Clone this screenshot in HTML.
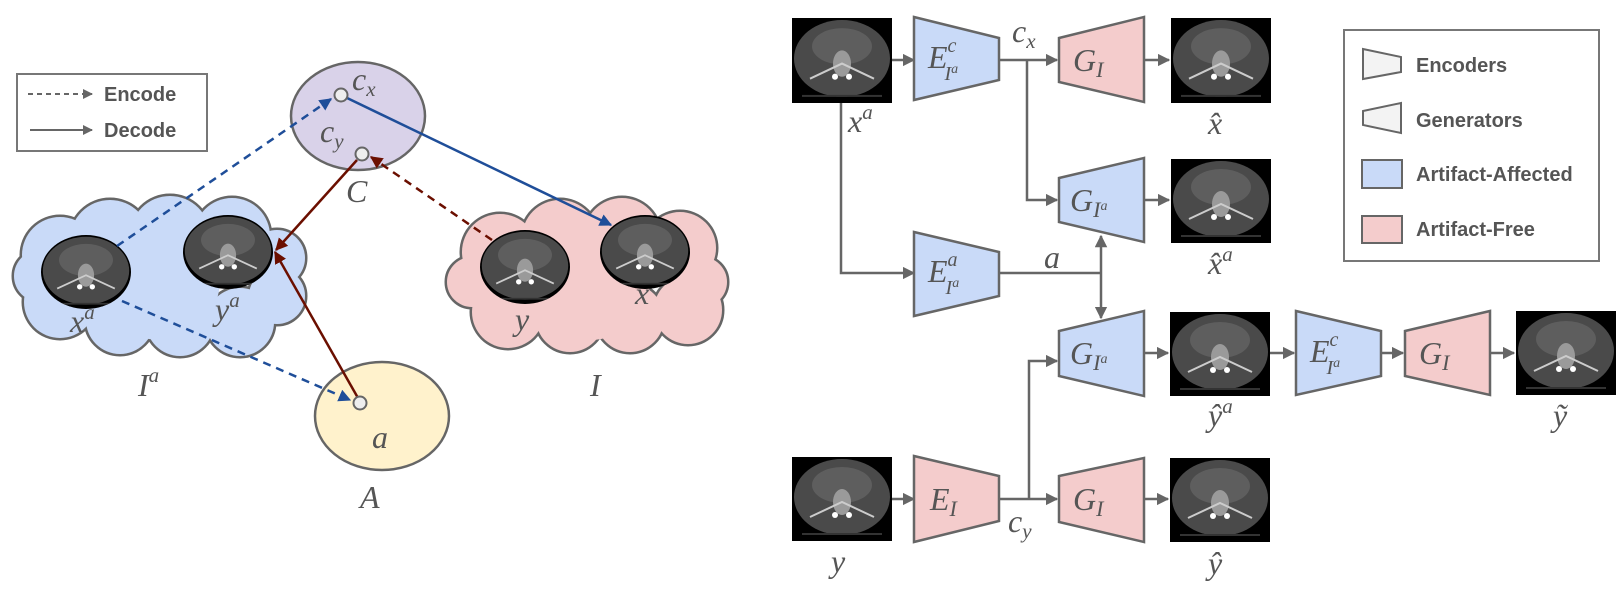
<!DOCTYPE html>
<html><head><meta charset="utf-8"><style>
body{margin:0;background:#fff;width:1617px;height:587px;overflow:hidden}
svg text{font-family:"Liberation Serif","DejaVu Serif",serif;fill:#555}
.m{font-style:italic;font-size:32px}
.lg{font-family:"Liberation Sans",sans-serif !important;font-weight:bold;font-size:20px;fill:#555;font-style:normal}
</style></head><body>
<svg width="1617" height="587" viewBox="0 0 1617 587" xmlns="http://www.w3.org/2000/svg">
<defs>
<marker id="ag" viewBox="0 0 10 10" refX="9" refY="5" markerWidth="5" markerHeight="5" orient="auto"><path d="M0,0L10,5L0,10z" fill="#666"/></marker>
<marker id="ab" viewBox="0 0 10 10" refX="9" refY="5" markerWidth="5" markerHeight="5" orient="auto"><path d="M0,0L10,5L0,10z" fill="#1f4e99"/></marker>
<marker id="ar" viewBox="0 0 10 10" refX="9" refY="5" markerWidth="5" markerHeight="5" orient="auto"><path d="M0,0L10,5L0,10z" fill="#6b0f00"/></marker>
<symbol id="ct" viewBox="0 0 100 84" preserveAspectRatio="none">
<rect width="100" height="84" fill="#000"/>
<ellipse cx="50" cy="40" rx="48" ry="38" fill="#4a4a4a"/>
<ellipse cx="50" cy="28" rx="30" ry="18" fill="#5e5e5e"/>
<ellipse cx="50" cy="45" rx="9" ry="13" fill="#9a9a9a"/>
<path d="M18,60 L50,45 L82,60" stroke="#ccc" stroke-width="2" fill="none"/>
<circle cx="43" cy="58" r="3" fill="#fff"/><circle cx="57" cy="58" r="3" fill="#fff"/>
<rect x="10" y="76" width="80" height="2" fill="#333"/>
</symbol>
<clipPath id="c1"><ellipse cx="86" cy="272" rx="45" ry="37"/></clipPath>
<clipPath id="c2"><ellipse cx="228" cy="252" rx="45" ry="37"/></clipPath>
<clipPath id="c3"><ellipse cx="525" cy="267" rx="45" ry="37"/></clipPath>
<clipPath id="c4"><ellipse cx="645" cy="252" rx="45" ry="37"/></clipPath>
</defs>

<rect x="17" y="74" width="190" height="77" fill="#fff" stroke="#777" stroke-width="2"/>
<line x1="28" y1="94" x2="92" y2="94" stroke="#666" stroke-width="2" stroke-dasharray="5,4" marker-end="url(#ag)"/>
<line x1="30" y1="130" x2="92" y2="130" stroke="#666" stroke-width="2" marker-end="url(#ag)"/>
<text x="104" y="101" class="lg">Encode</text>
<text x="104" y="137" class="lg">Decode</text>

<g stroke="#666" stroke-width="5" fill="#666">
<circle cx="60" cy="255" r="38"/><circle cx="110" cy="240" r="40"/><circle cx="170" cy="236" r="40"/><circle cx="232" cy="236" r="38"/><circle cx="277" cy="258" r="28"/><circle cx="277" cy="296" r="28"/><circle cx="240" cy="322" r="34"/><circle cx="180" cy="322" r="34"/><circle cx="120" cy="320" r="34"/><circle cx="60" cy="302" r="36"/><circle cx="40" cy="276" r="26"/>
<circle cx="500" cy="252" r="38"/><circle cx="560" cy="238" r="38"/><circle cx="622" cy="236" r="38"/><circle cx="680" cy="248" r="36"/><circle cx="702" cy="282" r="25"/><circle cx="688" cy="310" r="34"/><circle cx="630" cy="318" r="34"/><circle cx="570" cy="318" r="34"/><circle cx="508" cy="312" r="36"/><circle cx="472" cy="282" r="25"/>
</g>
<g fill="#c9daf8">
<circle cx="60" cy="255" r="38"/><circle cx="110" cy="240" r="40"/><circle cx="170" cy="236" r="40"/><circle cx="232" cy="236" r="38"/><circle cx="277" cy="258" r="28"/><circle cx="277" cy="296" r="28"/><circle cx="240" cy="322" r="34"/><circle cx="180" cy="322" r="34"/><circle cx="120" cy="320" r="34"/><circle cx="60" cy="302" r="36"/><circle cx="40" cy="276" r="26"/><circle cx="160" cy="280" r="60"/>
</g>
<g fill="#f4cccc">
<circle cx="500" cy="252" r="38"/><circle cx="560" cy="238" r="38"/><circle cx="622" cy="236" r="38"/><circle cx="680" cy="248" r="36"/><circle cx="702" cy="282" r="25"/><circle cx="688" cy="310" r="34"/><circle cx="630" cy="318" r="34"/><circle cx="570" cy="318" r="34"/><circle cx="508" cy="312" r="36"/><circle cx="472" cy="282" r="25"/><circle cx="590" cy="280" r="60"/>
</g>
<g clip-path="url(#c1)"><use href="#ct" x="41" y="235" width="90" height="75"/></g>
<g clip-path="url(#c2)"><use href="#ct" x="183" y="215" width="90" height="75"/></g>
<g clip-path="url(#c3)"><use href="#ct" x="480" y="230" width="90" height="75"/></g>
<g clip-path="url(#c4)"><use href="#ct" x="600" y="215" width="90" height="75"/></g>
<text x="70" y="332" class="m">x<tspan dy="-13" font-size="21">a</tspan></text>
<text x="215" y="320" class="m">y<tspan dy="-13" font-size="21">a</tspan></text>
<text x="515" y="330" class="m">y</text>
<text x="635" y="304" class="m">x</text>
<text x="138" y="396" class="m" font-size="36">I<tspan dy="-14" font-size="21">a</tspan></text>
<text x="590" y="396" class="m" font-size="36">I</text>

<ellipse cx="358" cy="116" rx="67" ry="54" fill="#d9d2e9" stroke="#666" stroke-width="2.5"/>
<ellipse cx="382" cy="416" rx="67" ry="54" fill="#fff2cc" stroke="#666" stroke-width="2.5"/>
<text x="352" y="90" class="m">c<tspan dy="6" font-size="21">x</tspan></text>
<text x="320" y="142" class="m">c<tspan dy="6" font-size="21">y</tspan></text>
<text x="346" y="202" class="m" font-size="36">C</text>
<text x="372" y="448" class="m">a</text>
<text x="360" y="508" class="m" font-size="36">A</text>

<line x1="117" y1="246" x2="331" y2="99" stroke="#1f4e99" stroke-width="2.5" stroke-dasharray="8,6" marker-end="url(#ab)"/>
<line x1="345" y1="97" x2="611" y2="225" stroke="#1f4e99" stroke-width="2.5" marker-end="url(#ab)"/>
<line x1="122" y1="301" x2="350" y2="400" stroke="#1f4e99" stroke-width="2.5" stroke-dasharray="8,6" marker-end="url(#ab)"/>
<line x1="357" y1="160" x2="276" y2="250" stroke="#6b0f00" stroke-width="2.5" marker-end="url(#ar)"/>
<line x1="358" y1="398" x2="275" y2="252" stroke="#6b0f00" stroke-width="2.5" marker-end="url(#ar)"/>
<line x1="492" y1="240" x2="371" y2="157" stroke="#6b0f00" stroke-width="2.5" stroke-dasharray="8,6" marker-end="url(#ar)"/>
<circle cx="341" cy="95" r="6.5" fill="#eee" stroke="#666" stroke-width="2"/>
<circle cx="362" cy="154" r="6.5" fill="#eee" stroke="#666" stroke-width="2"/>
<circle cx="360" cy="403" r="6.5" fill="#eee" stroke="#666" stroke-width="2"/>

<use href="#ct" x="792" y="18" width="100" height="85"/>
<use href="#ct" x="1171" y="18" width="100" height="85"/>
<use href="#ct" x="1171" y="159" width="100" height="84"/>
<use href="#ct" x="1170" y="312" width="100" height="84"/>
<use href="#ct" x="1516" y="311" width="100" height="84"/>
<use href="#ct" x="792" y="457" width="100" height="84"/>
<use href="#ct" x="1170" y="458" width="100" height="84"/>

<g stroke="#666" stroke-width="2.5" fill="none">
<line x1="892" y1="60" x2="914" y2="60" marker-end="url(#ag)"/>
<line x1="999" y1="60" x2="1057" y2="60" marker-end="url(#ag)"/>
<polyline points="1027,60 1027,200 1057,200" marker-end="url(#ag)"/>
<line x1="1144" y1="60" x2="1169" y2="60" marker-end="url(#ag)"/>
<line x1="1144" y1="200" x2="1169" y2="200" marker-end="url(#ag)"/>
<polyline points="841,103 841,273 914,273" marker-end="url(#ag)"/>
<polyline points="999,273 1101,273"/>
<line x1="1101" y1="273" x2="1101" y2="236" marker-end="url(#ag)"/>
<line x1="1101" y1="273" x2="1101" y2="318" marker-end="url(#ag)"/>
<line x1="892" y1="499" x2="914" y2="499" marker-end="url(#ag)"/>
<line x1="999" y1="499" x2="1057" y2="499" marker-end="url(#ag)"/>
<polyline points="1029,499 1029,361 1057,361" marker-end="url(#ag)"/>
<line x1="1144" y1="499" x2="1168" y2="499" marker-end="url(#ag)"/>
<line x1="1144" y1="353" x2="1168" y2="353" marker-end="url(#ag)"/>
<line x1="1270" y1="353" x2="1294" y2="353" marker-end="url(#ag)"/>
<line x1="1381" y1="353" x2="1403" y2="353" marker-end="url(#ag)"/>
<line x1="1490" y1="353" x2="1514" y2="353" marker-end="url(#ag)"/>
</g>

<g stroke="#666" stroke-width="2.5">
<polygon points="914,17 999,38 999,80 914,100" fill="#c9daf8"/>
<polygon points="1059,38 1144,17 1144,102 1059,82" fill="#f4cccc"/>
<polygon points="1059,178 1144,158 1144,242 1059,222" fill="#c9daf8"/>
<polygon points="914,232 999,252 999,296 914,316" fill="#c9daf8"/>
<polygon points="1059,331 1144,311 1144,396 1059,376" fill="#c9daf8"/>
<polygon points="1296,311 1381,331 1381,376 1296,395" fill="#c9daf8"/>
<polygon points="1405,331 1490,311 1490,395 1405,376" fill="#f4cccc"/>
<polygon points="914,456 999,476 999,521 914,542" fill="#f4cccc"/>
<polygon points="1059,476 1144,458 1144,542 1059,522" fill="#f4cccc"/>
</g>
<text x="928" y="68" class="m" font-size="36">E<tspan dy="-16" font-size="20">c</tspan><tspan dx="-12" dy="28" font-size="20">I<tspan dy="-7" font-size="14">a</tspan></tspan></text>
<text x="928" y="282" class="m" font-size="36">E<tspan dy="-16" font-size="20">a</tspan><tspan dx="-12" dy="28" font-size="20">I<tspan dy="-7" font-size="14">a</tspan></tspan></text>
<text x="1310" y="362" class="m" font-size="36">E<tspan dy="-16" font-size="20">c</tspan><tspan dx="-12" dy="28" font-size="20">I<tspan dy="-7" font-size="14">a</tspan></tspan></text>
<text x="930" y="510" class="m" font-size="36">E<tspan dy="6" font-size="22">I</tspan></text>
<text x="1073" y="71" class="m" font-size="36">G<tspan dy="6" font-size="22">I</tspan></text>
<text x="1070" y="211" class="m" font-size="36">G<tspan dy="6" font-size="22">I<tspan dy="-7" font-size="14">a</tspan></tspan></text>
<text x="1070" y="364" class="m" font-size="36">G<tspan dy="6" font-size="22">I<tspan dy="-7" font-size="14">a</tspan></tspan></text>
<text x="1419" y="364" class="m" font-size="36">G<tspan dy="6" font-size="22">I</tspan></text>
<text x="1073" y="510" class="m" font-size="36">G<tspan dy="6" font-size="22">I</tspan></text>

<text x="1012" y="42" class="m">c<tspan dy="6" font-size="21">x</tspan></text>
<text x="848" y="132" class="m">x<tspan dy="-13" font-size="21">a</tspan></text>
<text x="1208" y="134" class="m">x̂</text>
<text x="1208" y="274" class="m">x̂<tspan dy="-13" font-size="21">a</tspan></text>
<text x="1044" y="268" class="m">a</text>
<text x="1208" y="426" class="m">ŷ<tspan dy="-13" font-size="21">a</tspan></text>
<text x="1553" y="426" class="m">ỹ</text>
<text x="1008" y="532" class="m">c<tspan dy="6" font-size="21">y</tspan></text>
<text x="831" y="572" class="m">y</text>
<text x="1208" y="574" class="m">ŷ</text>

<rect x="1344" y="30" width="255" height="231" fill="#fff" stroke="#777" stroke-width="2"/>
<polygon points="1363,49 1401,57 1401,72 1363,79" fill="#f3f3f3" stroke="#666" stroke-width="2"/>
<polygon points="1363,111 1401,103 1401,133 1363,125" fill="#f3f3f3" stroke="#666" stroke-width="2"/>
<rect x="1362" y="160" width="40" height="28" fill="#c9daf8" stroke="#666" stroke-width="2"/>
<rect x="1362" y="216" width="40" height="27" fill="#f4cccc" stroke="#666" stroke-width="2"/>
<text x="1416" y="72" class="lg" font-size="19">Encoders</text>
<text x="1416" y="127" class="lg" font-size="19">Generators</text>
<text x="1416" y="181" class="lg" font-size="19">Artifact-Affected</text>
<text x="1416" y="236" class="lg" font-size="19">Artifact-Free</text>
</svg>
</body></html>
